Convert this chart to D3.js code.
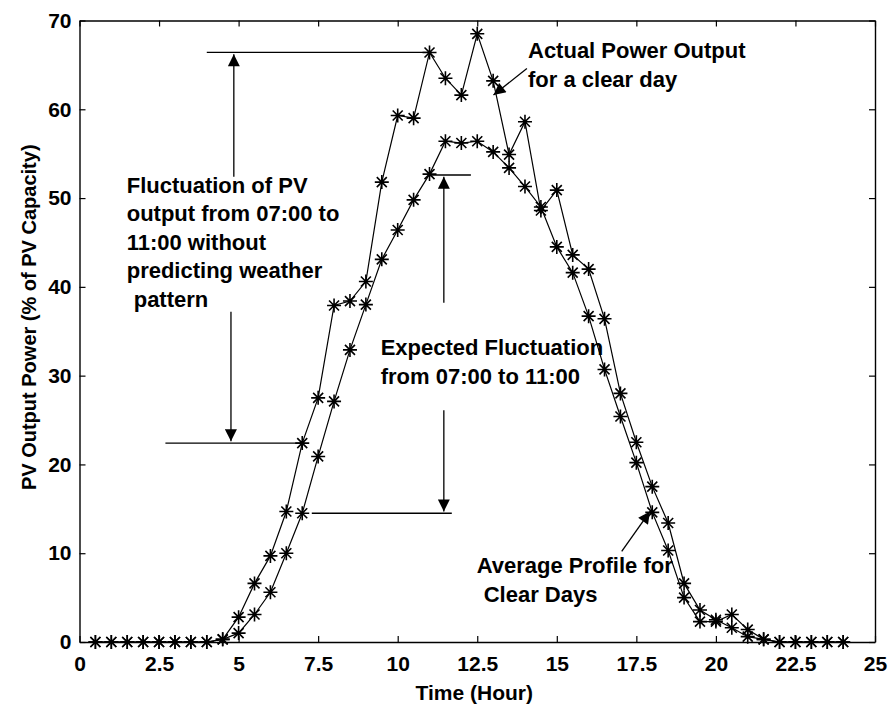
<!DOCTYPE html>
<html>
<head>
<meta charset="utf-8">
<script src="https://cdn.jsdelivr.net/npm/d3@7"></script>
<style>
  html, body { margin: 0; padding: 0; background: #fff; }
  svg { display: block; }
  text { font-family: "Liberation Sans", Arial, sans-serif; font-weight: bold; fill: #000; }
</style>
</head>
<body>
<svg id="chart" width="890" height="704"></svg>
<script>
// ---- data (hours, % of PV capacity) ----
const hours = [0.5,1,1.5,2,2.5,3,3.5,4,4.5,5,5.5,6,6.5,7,7.5,8,8.5,9,9.5,10,10.5,11,11.5,12,
               12.5,13,13.5,14,14.5,15,15.5,16,16.5,17,17.5,18,18.5,19,19.5,20,20.5,21,21.5,22,22.5,23,23.5,24];
const actualClearDay = [0,0,0,0,0,0,0,0,0.3,2.8,6.6,9.7,14.7,22.4,27.5,37.9,38.4,40.6,51.8,59.3,59.0,66.4,63.5,61.6,
                        68.5,63.2,54.9,58.6,48.6,50.9,43.6,42.0,36.4,28.0,22.5,17.5,13.4,6.6,3.6,2.5,1.6,0.6,0.3,0,0,0,0,0];
const averageClearDays = [0,0,0,0,0,0,0,0,0.3,1.0,3.1,5.6,10.0,14.5,20.9,27.1,32.9,38.0,43.1,46.4,49.8,52.7,56.4,56.2,
                          56.4,55.2,53.4,51.3,49.0,44.5,41.6,36.7,30.7,25.4,20.2,14.6,10.3,5.0,2.3,2.3,3.1,1.4,0.3,0,0,0,0,0];
const xTicks = [0,2.5,5,7.5,10,12.5,15,17.5,20,22.5,25];
const xTickLabels = ["0","2.5","5","7.5","10","12.5","15","17.5","20","22.5","25"];
const yTicks = [0,10,20,30,40,50,60,70];
const yTickLabels = ["0","10","20","30","40","50","60","70"];
const xTitle = "Time (Hour)";
const yTitle = "PV Output Power (% of PV Capacity)";

// ---- layout ----
const svg = d3.select("#chart");
const L = 79.5, R = 875, T = 20.5, B = 642;
const x = d3.scaleLinear().domain([0, 25]).range([L, R]);
const y = d3.scaleLinear().domain([0, 70]).range([B, T]);

// axes box with inward ticks
const tickLen = 6;
const axB = svg.append("g").attr("transform", `translate(0,${B})`)
  .call(d3.axisBottom(x).tickValues(xTicks).tickFormat((d,i) => xTickLabels[i]).tickSizeInner(-tickLen).tickSizeOuter(0).tickPadding(14));
const axT = svg.append("g").attr("transform", `translate(0,${T})`)
  .call(d3.axisTop(x).tickValues(xTicks).tickFormat("").tickSizeInner(-tickLen).tickSizeOuter(0));
const axL = svg.append("g").attr("transform", `translate(${L},0)`)
  .call(d3.axisLeft(y).tickValues(yTicks).tickFormat((d,i) => yTickLabels[i]).tickSizeInner(-tickLen).tickSizeOuter(0).tickPadding(8));
const axR = svg.append("g").attr("transform", `translate(${R},0)`)
  .call(d3.axisRight(y).tickValues(yTicks).tickFormat("").tickSizeInner(-tickLen).tickSizeOuter(0));
[axB, axT, axL, axR].forEach(a => {
  a.select(".domain").attr("stroke", "#000").attr("stroke-width", 1.4);
  a.selectAll(".tick line").attr("stroke", "#000").attr("stroke-width", 1.2);
  a.selectAll("text").style("font-size", "21px").attr("fill", "#000");
});
axB.selectAll("text").attr("dy", "0.71em");

// axis titles
svg.append("text").attr("x", (L + R) / 2 - 3).attr("y", 700).attr("text-anchor", "middle")
  .style("font-size", "21px").text(xTitle);
svg.append("text").attr("transform", `translate(36,${(T + B) / 2 - 14}) rotate(-90)`)
  .attr("text-anchor", "middle").style("font-size", "20px").text(yTitle);

// ---- series ----
const line = d3.line().x((d, i) => x(hours[i])).y(d => y(d));
const starPath = "M-7,0H7M0,-7V7M-5,-5L5,5M-5,5L5,-5";
[actualClearDay, averageClearDays].forEach(series => {
  svg.append("path").datum(series).attr("d", line)
    .attr("fill", "none").attr("stroke", "#000").attr("stroke-width", 1.2);
  svg.append("g").selectAll("path").data(series).join("path")
    .attr("d", starPath)
    .attr("transform", (d, i) => `translate(${x(hours[i])},${y(d)})`)
    .attr("stroke", "#000").attr("stroke-width", 1.6).attr("fill", "none");
});

// ---- annotations (data coordinates) ----
const defs = svg.append("defs");
defs.append("marker").attr("id", "ah").attr("viewBox", "0 0 10 10")
  .attr("refX", 10).attr("refY", 5).attr("markerWidth", 15).attr("markerHeight", 12)
  .attr("markerUnits", "userSpaceOnUse").attr("orient", "auto")
  .append("path").attr("d", "M0,0L10,5L0,10Z").attr("fill", "#000");

function seg(x1, y1, x2, y2, arrow) {
  const p = svg.append("line").attr("x1", x(x1)).attr("y1", y(y1)).attr("x2", x(x2)).attr("y2", y(y2))
    .attr("stroke", "#000").attr("stroke-width", 1.3);
  if (arrow) p.attr("marker-end", "url(#ah)");
}
// fluctuation without prediction
seg(4.0, 66.4, 11, 66.4);
seg(4.85, 52.4, 4.85, 66.2, true);
seg(2.7, 22.4, 7, 22.4);
seg(4.76, 37.2, 4.76, 22.6, true);
// expected fluctuation
seg(11, 52.6, 12.3, 52.6);
seg(11.45, 38.2, 11.45, 52.4, true);
seg(7.3, 14.5, 11.7, 14.5);
seg(11.45, 26.1, 11.45, 14.7, true);
// pointers
seg(14.06, 64.6, 13.01, 61.6, true);
seg(17.04, 10.2, 17.93, 14.7, true);

function label(lines, x0, yBase, dy, size) {
  lines.forEach((t, i) => {
    svg.append("text").attr("x", x0 + (t.indent || 0)).attr("y", yBase + i * dy)
      .style("font-size", size + "px").text(t.s);
  });
}
label([{s: "Fluctuation of PV"}, {s: "output from 07:00 to"}, {s: "11:00 without"},
       {s: "predicting weather"}, {s: "pattern", indent: 7}], 126.7, 193, 28.4, 22);
label([{s: "Actual Power Output"}, {s: "for a clear day"}], 528, 57.5, 29.5, 22);
label([{s: "Expected Fluctuation"}, {s: "from 07:00 to 11:00"}], 380.7, 355, 29, 22);
label([{s: "Average Profile for"}, {s: "Clear Days", indent: 7}], 476.7, 572.7, 29, 22);
</script>
</body>
</html>
